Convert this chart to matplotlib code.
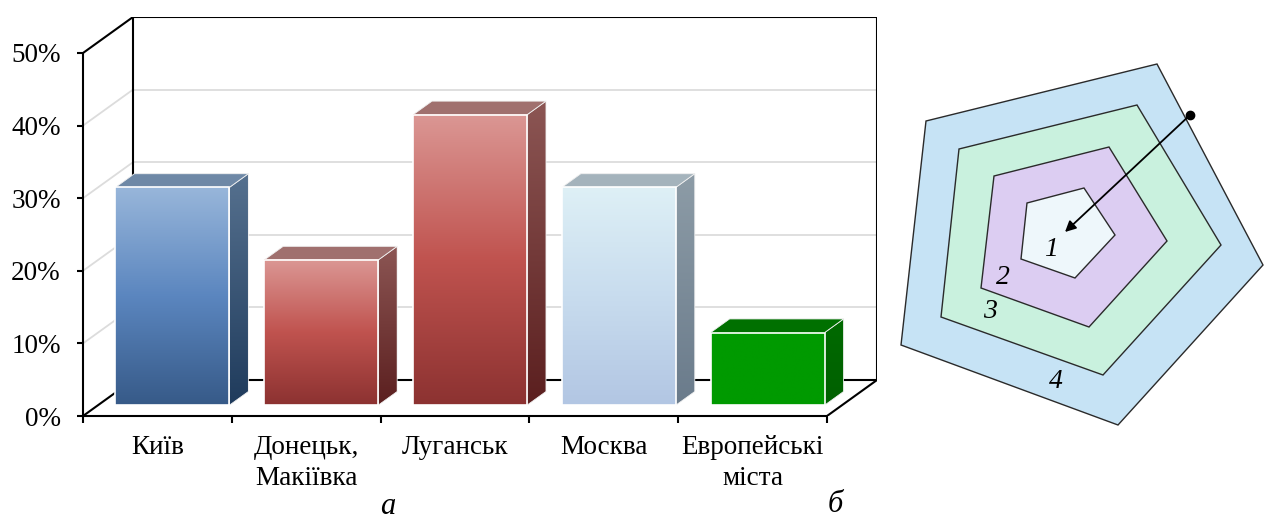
import numpy as np
import matplotlib
matplotlib.use("Agg")
import matplotlib.pyplot as plt
from matplotlib.patches import Polygon
from matplotlib.colors import to_rgb

# ---------------- data ----------------
categories = ["Київ", "Донецьк,\nМакіївка", "Луганськ", "Москва", "Европейські\nміста"]
values = [30, 20, 40, 30, 10]
y_ticks = [0, 10, 20, 30, 40, 50]
y_tick_labels = ["0%", "10%", "20%", "30%", "40%", "50%"]

# front-face gradient (top, middle, bottom), side gradient (top, bottom), top face
front_colors = [("#98b6da", "#5b86bf", "#375a88"),
                ("#db9794", "#c0534f", "#8c3231"),
                ("#db9794", "#c0534f", "#8c3231"),
                ("#def0f6", "#c8dcee", "#b2c6e3"),
                ("#009a00", "#009a00", "#009a00")]
side_colors = [("#56718f", "#1f3b5c"),
               ("#8c5654", "#5b1f1f"),
               ("#8c5654", "#5b1f1f"),
               ("#8d9ca7", "#6a7b8b"),
               ("#006a00", "#006000")]
top_colors = ["#6e88a6", "#a0706e", "#a0706e", "#a4b3bc", "#007000"]

# pentagon diagram (schematic zones 1..4), vertices in diagram coordinates
zone_labels = ["1", "2", "3", "4"]
zone_vertices = [
    [(1027, 203), (1084, 188), (1115, 235), (1075, 278), (1021, 259)],
    [(994, 176), (1109, 147), (1167, 241), (1089, 327), (981, 288)],
    [(959, 149), (1137, 105), (1221, 245), (1103, 375), (941, 317)],
    [(926, 121), (1157, 64), (1263, 265), (1118, 425), (901, 345)],
]
zone_colors = ["#eef7fb", "#dccdf2", "#c9f1de", "#c6e3f5"]
zone_label_pos = [(1051, 250), (1003, 277), (990, 312), (1056, 382)]
arrow_start = (1190, 115)
arrow_end = (1065, 232)

# ---------------- figure ----------------
W, H = 1264, 518
fig = plt.figure(figsize=(W / 100, H / 100), dpi=100)
serif = ["Liberation Serif", "DejaVu Serif"]
plt.rcParams["font.family"] = serif

# 3D box geometry (pixels)
FRONT_W, FRONT_H = 744, 363
DEPTH = (50, 36)
n = len(categories)
ymax = y_ticks[-1]
ax = fig.add_axes([83 / W, 1 - 416 / H, (FRONT_W + DEPTH[0]) / W, (FRONT_H + DEPTH[1]) / H])
ux = FRONT_W / n
uy = FRONT_H / ymax
ddx = DEPTH[0] / ux
ddy = DEPTH[1] / uy
ax.set_xlim(0, n + ddx)
ax.set_ylim(0, ymax + ddy)
ax.patch.set_visible(False)

grid_c = "#dcdcdc"
# back wall + side wall grid
for t in y_ticks:
    c = "black" if t in (0, ymax) else grid_c
    lw = 1.5 if t in (0, ymax) else 1.3
    ax.plot([ddx, n + ddx], [t + ddy] * 2, color=c, lw=lw, zorder=1, solid_capstyle="butt")
    ax.plot([0, ddx], [t, t + ddy], color=c, lw=lw, zorder=1)
ax.plot([ddx, ddx], [ddy, ymax + ddy], color="black", lw=1.5, zorder=1)
ax.plot([n + ddx] * 2, [ddy, ymax + ddy], color="black", lw=1.5, zorder=1)
ax.plot([n, n + ddx], [0, ddy], color="black", lw=1.5, zorder=1)


def grad(stops, N=200):
    cols = np.array([to_rgb(c) for c in stops])  # top ... bottom
    pos = np.linspace(1, 0, len(cols))
    t = np.linspace(0, 1, N)
    arr = np.stack([np.interp(t, pos[::-1], cols[::-1, k]) for k in range(3)], axis=-1)
    return arr[:, None, :]  # row 0 = bottom (origin lower)


bw = 0.766
d0, d1 = 0.30, 0.68
for i, v in enumerate(values):
    xc = i + 0.5
    x0 = xc - bw / 2 + d0 * ddx
    x1 = x0 + bw
    yb = d0 * ddy
    yt = v + d0 * ddy
    sx = (d1 - d0) * ddx
    sy = (d1 - d0) * ddy
    # side face
    side = Polygon([(x1, yb), (x1, yt), (x1 + sx, yt + sy), (x1 + sx, yb + sy)],
                   closed=True, facecolor="none", edgecolor="#f0f0f0", lw=0.6, zorder=3)
    ax.add_patch(side)
    im = ax.imshow(grad(side_colors[i]), extent=[x1, x1 + sx, yb, yt + sy], origin="lower",
                   aspect="auto", interpolation="bilinear", zorder=2)
    im.set_clip_path(side)
    # top face
    ax.add_patch(Polygon([(x0, yt), (x1, yt), (x1 + sx, yt + sy), (x0 + sx, yt + sy)],
                         closed=True, facecolor=top_colors[i], edgecolor="#f0f0f0", lw=0.6, zorder=3))
    # front face
    ax.imshow(grad(front_colors[i]), extent=[x0, x1, yb, yt], origin="lower",
              aspect="auto", interpolation="bilinear", zorder=4)
    ax.add_patch(Polygon([(x0, yb), (x1, yb), (x1, yt), (x0, yt)], closed=True,
                         facecolor="none", edgecolor="white", lw=1.2, zorder=5))

ax.set_xlim(0, n + ddx)
ax.set_ylim(0, ymax + ddy)

for s in ["top", "right"]:
    ax.spines[s].set_visible(False)
ax.spines["left"].set_bounds(0, ymax)
ax.spines["bottom"].set_bounds(0, n)
for s in ["left", "bottom"]:
    ax.spines[s].set_linewidth(1.5)
    ax.spines[s].set_zorder(6)

ax.set_yticks(y_ticks, y_tick_labels)
ax.tick_params(axis="y", direction="out", length=4, width=1.5, pad=12, labelsize=19.5)
ax.set_xticks(range(n + 1), [""] * (n + 1))
ax.tick_params(axis="x", which="major", direction="out", length=5, width=1.5)
ax.set_xticks([i + 0.5 for i in range(n)], categories, minor=True)
ax.tick_params(axis="x", which="minor", length=0, pad=14, labelsize=19.5)
for lab in ax.get_xticklabels(minor=True):
    lab.set_linespacing(1.3)

fig.text(388 / W, 1 - 506 / H, "а", fontsize=22, style="italic", ha="center", va="center")
fig.text(835 / W, 1 - 504 / H, "б", fontsize=22, style="italic", ha="center", va="center")

# ---------------- pentagon diagram ----------------
ax2 = fig.add_axes([880 / W, 1 - 460 / H, 384 / W, 430 / H])
ax2.set_xlim(880, 1264)
ax2.set_ylim(460, 30)
ax2.axis("off")
for verts, col in zip(zone_vertices[::-1], zone_colors[::-1]):
    ax2.add_patch(Polygon(verts, closed=True, facecolor=col, edgecolor="#2a2a2a", lw=1.0))
for lab, (px, py) in zip(zone_labels, zone_label_pos):
    ax2.text(px, py, lab, fontsize=20, style="italic", ha="center", va="center")
ax2.annotate("", xy=arrow_end, xytext=arrow_start,
             arrowprops=dict(arrowstyle="-|>", color="black", lw=1.3,
                             mutation_scale=16, shrinkA=0, shrinkB=0))
ax2.plot(*arrow_start, "o", color="black", ms=6)

fig.savefig("out.png", dpi=100)
